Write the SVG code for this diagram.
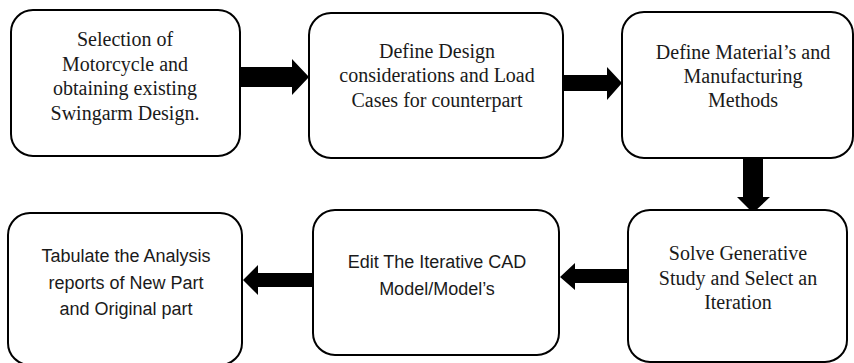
<svg xmlns="http://www.w3.org/2000/svg" width="854" height="363" viewBox="0 0 854 363">
  <style>
    .box { fill: #ffffff; stroke: #000000; stroke-width: 2; }
    .serif { font-family: "Liberation Serif", "Times New Roman", serif; font-size: 20px; fill: #1a1a1a; text-anchor: middle; }
    .sans { font-family: "Liberation Sans", Arial, sans-serif; font-size: 18px; fill: #1a1a1a; text-anchor: middle; }
    .arrow { fill: #000000; }
  </style>
  <rect width="854" height="363" fill="#ffffff"/>

  <!-- flow connectors -->
  <g id="connectors">
    <polygon class="arrow" points="240,67 292,67 292,59 309,77 292,95 292,87 240,87"/>
    <polygon class="arrow" points="563,75 607,75 607,67 622,83 607,100 607,91 563,91"/>
    <polygon class="arrow" points="743,158 763,158 763,197 770,197 753,213 737,197 743,197"/>
    <polygon class="arrow" points="628,269 575,269 575,263 560,277 575,290 575,283 628,283"/>
    <polygon class="arrow" points="313,273 258,273 258,265 243,280 258,295 258,287 313,287"/>
  </g>

  <g id="node-selection">
    <rect class="box" x="11" y="10" width="229" height="146" rx="22"/>
    <text class="serif" x="125" y="46">Selection of</text>
    <text class="serif" x="125" y="71">Motorcycle and</text>
    <text class="serif" x="125" y="95">obtaining existing</text>
    <text class="serif" x="125" y="120">Swingarm Design.</text>
  </g>

  <g id="node-design">
    <rect class="box" x="309" y="13" width="254" height="145" rx="22"/>
    <text class="serif" x="437" y="58">Define Design</text>
    <text class="serif" x="437" y="82">considerations and Load</text>
    <text class="serif" x="437" y="107">Cases for counterpart</text>
  </g>

  <g id="node-material">
    <rect class="box" x="622" y="12" width="231" height="146" rx="22"/>
    <text class="serif" x="743" y="59">Define Material’s and</text>
    <text class="serif" x="743" y="83">Manufacturing</text>
    <text class="serif" x="743" y="107">Methods</text>
  </g>

  <g id="node-solve">
    <rect class="box" x="628" y="210" width="219" height="152" rx="22"/>
    <text class="serif" x="738" y="260">Solve Generative</text>
    <text class="serif" x="738" y="285">Study and Select an</text>
    <text class="serif" x="738" y="309">Iteration</text>
  </g>

  <g id="node-edit">
    <rect class="box" x="313" y="210" width="246" height="145" rx="22"/>
    <text class="sans" x="437" y="268">Edit The Iterative CAD</text>
    <text class="sans" x="437" y="295">Model/Model’s</text>
  </g>

  <g id="node-tabulate">
    <rect class="box" x="8" y="213" width="234" height="152" rx="22"/>
    <text class="sans" x="126" y="262">Tabulate the Analysis</text>
    <text class="sans" x="126" y="289">reports of New Part</text>
    <text class="sans" x="126" y="315">and Original part</text>
  </g>
</svg>
